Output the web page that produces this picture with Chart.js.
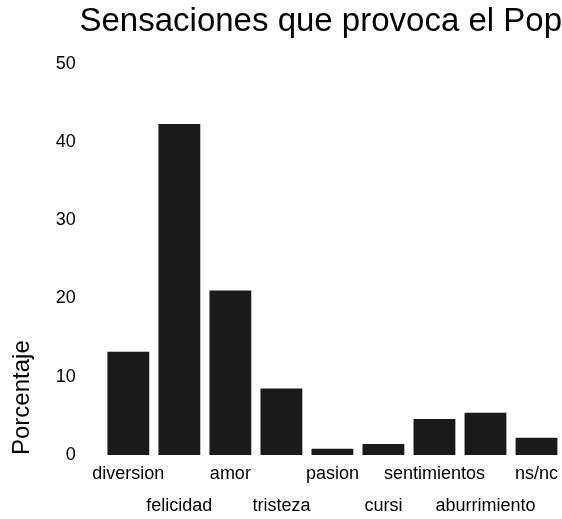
<!DOCTYPE html>
<html>
<head>
<meta charset="utf-8">
<script src="https://cdn.jsdelivr.net/npm/chart.js@4/dist/chart.umd.min.js"></script>
<style>
  html, body { margin: 0; padding: 0; background: #fff; }
  canvas { display: block; }
</style>
</head>
<body>
<canvas id="myChart" width="562" height="519"></canvas>
<script>
const categories = ['diversion', 'felicidad', 'amor', 'tristeza', 'pasion', 'cursi', 'sentimientos', 'aburrimiento', 'ns/nc'];
const porcentajes = [13.2, 42.3, 21.0, 8.5, 0.8, 1.4, 4.6, 5.4, 2.2];
const yTicks = [0, 10, 20, 30, 40, 50];

// etiquetas alternadas en dos filas
const labels = categories.map((c, i) => i % 2 === 0 ? [c] : ['', c]);

const fontFamily = '"Liberation Sans", Arial, sans-serif';

const data = {
  labels: labels,
  datasets: [{
    label: 'Porcentaje',
    backgroundColor: '#1a1a1a',
    borderWidth: 0,
    data: porcentajes,
    barPercentage: 0.82,
    categoryPercentage: 1.0
  }]
};

const config = {
  type: 'bar',
  data: data,
  options: {
    responsive: false,
    animation: false,
    layout: { padding: { left: 0, right: 0, top: 0, bottom: -6 } },
    plugins: {
      legend: { display: false },
      tooltip: { enabled: false },
      title: {
        display: true,
        text: 'Sensaciones que provoca el Pop',
        align: 'end',
        color: '#000',
        font: { family: fontFamily, size: 33, weight: 'normal' },
        padding: { top: 2, bottom: 22 }
      }
    },
    scales: {
      x: {
        grid: { display: false, drawTicks: false },
        border: { display: false },
        ticks: {
          color: '#000',
          padding: 3,
          maxRotation: 0,
          autoSkip: false,
          font: { family: fontFamily, size: 18, lineHeight: '32px' }
        }
      },
      y: {
        min: 0,
        max: 50,
        afterBuildTicks: axis => { axis.ticks = yTicks.map(v => ({ value: v })); },
        grid: { display: false, drawTicks: false },
        border: { display: false },
        ticks: {
          color: '#000',
          padding: 27,
          font: { family: fontFamily, size: 18 }
        },
        title: {
          display: true,
          text: 'Porcentaje',
          align: 'start',
          color: '#000',
          font: { family: fontFamily, size: 24, weight: 'normal' },
          padding: { top: 8, bottom: -8 }
        }
      }
    }
  }
};

const myChart = new Chart(document.getElementById('myChart'), config);
</script>
</body>
</html>
